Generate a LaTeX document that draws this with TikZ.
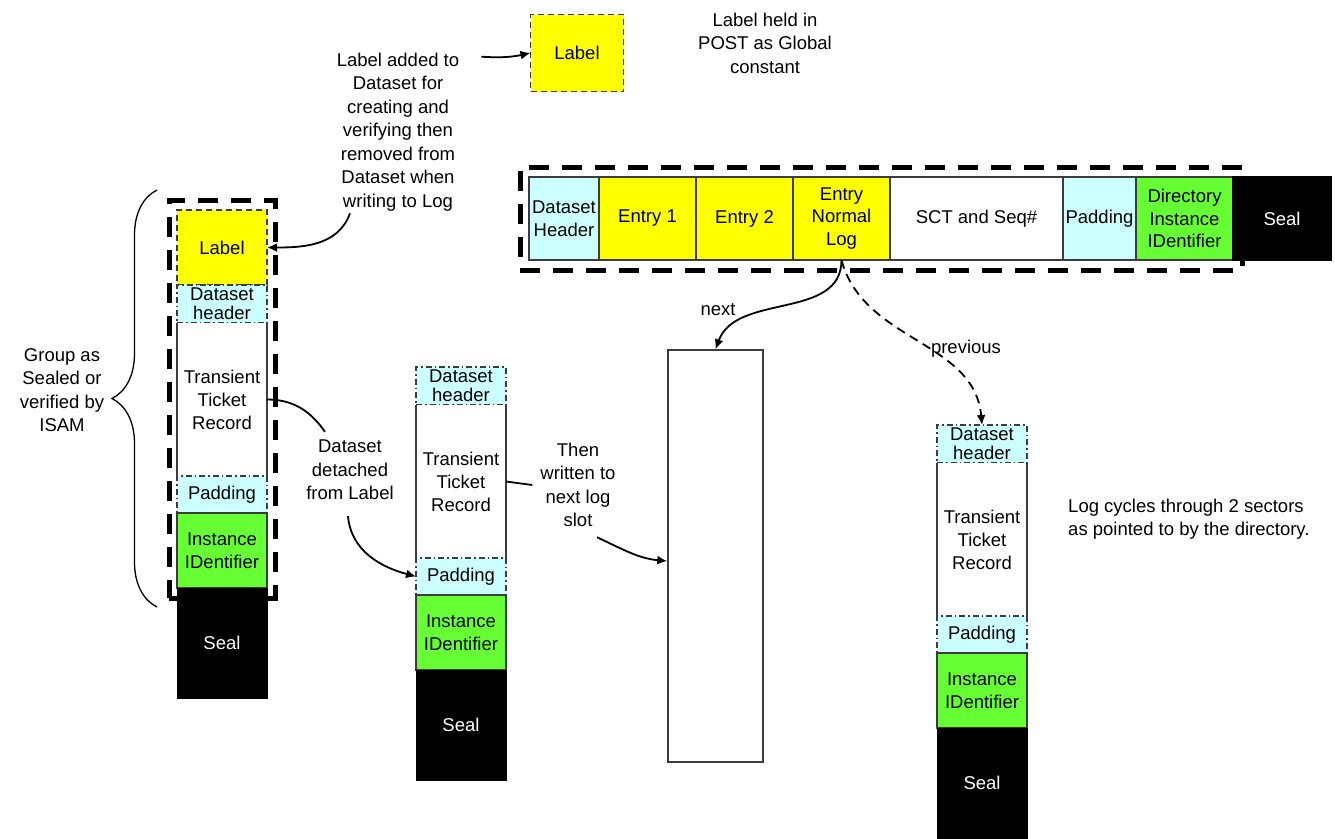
\documentclass[tikz,border=0pt]{standalone}
\usepackage{fontspec}
\setmainfont{Liberation Sans}
\usetikzlibrary{
  arrows.meta,
  positioning,
  fit,
  decorations.pathreplacing
}
\definecolor{LabelYellow}{RGB}{255,255,0}
\definecolor{PadCyan}{RGB}{204,255,255}
\definecolor{IdGreen}{RGB}{102,255,51}
\definecolor{EdgeGray}{RGB}{60,60,60}
\tikzset{
  cell/.style={outer sep=0pt,inner sep=0pt,align=center,minimum width=90pt,font=\fontsize{18.5}{20}\selectfont},
  labelcell/.style={cell,fill=LabelYellow,draw=EdgeGray,line width=1.8pt,dash pattern=on 6pt off 4pt,minimum height=75pt},
  hdrcell/.style={cell,fill=PadCyan,draw=EdgeGray,line width=1.4pt,dash pattern=on 6pt off 3pt on 1.5pt off 3pt,minimum height=38pt,font=\fontsize{18.5}{19}\selectfont},
  reccell/.style={cell,fill=white,minimum height=153pt,font=\fontsize{18.5}{23}\selectfont},
  padcell/.style={hdrcell,minimum height=37pt},
  idcell/.style={cell,fill=IdGreen,draw=EdgeGray,line width=1.2pt,minimum height=75pt,font=\fontsize{18.5}{23}\selectfont},
  sealcell/.style={cell,fill=black,draw=black,text=white,minimum height=110pt},
  rowcell/.style={outer sep=0pt,inner sep=0pt,align=center,draw=EdgeGray,line width=1.2pt,minimum height=83pt,font=\fontsize{18.5}{22.5}\selectfont},
  slotbox/.style={draw=EdgeGray,line width=1.4pt,fill=white,minimum width=95pt,minimum height=412pt},
  groupframe/.style={draw=black,line width=5pt,dash pattern=on 20pt off 13pt},
  side/.style={draw=EdgeGray,line width=1.2pt},
  txt/.style={font=\fontsize{18.5}{23.5}\selectfont,align=center,inner sep=2pt},
  wire/.style={line width=1.8pt},
  arr/.style={wire,-{Latex[length=10pt,width=9pt]}},
  darr/.style={arr,dash pattern=on 9pt off 6pt},
  bracemark/.style={line width=1.3pt,decorate,decoration={brace,amplitude=45pt}}
}
\begin{document}
\begin{tikzpicture}[x=1pt,y=1pt]
\path[use as bounding box,fill=white] (0,0) rectangle (1335,-838);

\node[labelcell,minimum width=93pt,minimum height=77pt] (toplbl) at (577,-53) {Label};
\node[txt] (held) at (765,-43) {Label held in\\POST as Global\\constant};

% sealed group
\node[labelcell,anchor=north] (lbl1) at (222,-210) {Label};
\node[hdrcell,below=0pt of lbl1] (hdr1) {Dataset\\header};
\node[reccell,below=0pt of hdr1] (rec1) {Transient\\Ticket\\Record};
\node[padcell,below=0pt of rec1] (pad1) {Padding};
\node[idcell,below=0pt of pad1] (id1) {Instance\\IDentifier};
\node[sealcell,below=0pt of id1] (seal1) {Seal};
\draw[side] (rec1.north west) -- (rec1.south west) (rec1.north east) -- (rec1.south east);
\node[groupframe,fit=(lbl1)(id1),inner xsep=8pt,inner ysep=10pt] (frame1) {};

% detached dataset
\node[hdrcell,anchor=north] (hdr2) at (461,-367) {Dataset\\header};
\node[reccell,below=0pt of hdr2] (rec2) {Transient\\Ticket\\Record};
\node[padcell,below=0pt of rec2] (pad2) {Padding};
\node[idcell,below=0pt of pad2] (id2) {Instance\\IDentifier};
\node[sealcell,below=0pt of id2] (seal2) {Seal};
\draw[side] (rec2.north west) -- (rec2.south west) (rec2.north east) -- (rec2.south east);

% previous log slot
\node[hdrcell,anchor=north] (hdr3) at (982,-425) {Dataset\\header};
\node[reccell,below=0pt of hdr3] (rec3) {Transient\\Ticket\\Record};
\node[padcell,below=0pt of rec3] (pad3) {Padding};
\node[idcell,below=0pt of pad3] (id3) {Instance\\IDentifier};
\node[sealcell,below=0pt of id3] (seal3) {Seal};
\draw[side] (rec3.north west) -- (rec3.south west) (rec3.north east) -- (rec3.south east);

\node[slotbox] (slot) at (715.5,-556) {};

% directory record
\node[rowcell,fill=PadCyan,minimum width=70pt,anchor=north west] (dh) at (529,-177) {Dataset\\Header};
\node[rowcell,fill=LabelYellow,minimum width=97pt,right=0pt of dh] (e1) {Entry 1};
\node[rowcell,fill=LabelYellow,minimum width=97pt,right=0pt of e1] (e2) {Entry 2};
\node[rowcell,fill=LabelYellow,minimum width=97pt,right=0pt of e2] (enl) {Entry\\Normal\\Log};
\node[rowcell,fill=white,minimum width=173pt,right=0pt of enl] (sct) {SCT and Seq\#};
\node[rowcell,fill=PadCyan,minimum width=73pt,right=0pt of sct] (rpad) {Padding};
\node[rowcell,fill=IdGreen,minimum width=97pt,right=0pt of rpad] (dir) {Directory\\Instance\\IDentifier};
\node[rowcell,fill=black,draw=black,text=white,minimum width=98pt,right=0pt of dir] (rseal) {Seal};
\node[groupframe,fit=(dh)(dir),inner xsep=9pt,inner ysep=10pt] (frame2) {};

\node[txt] (added) at (398,-132) {Label added to\\Dataset for\\creating and\\verifying then\\removed from\\Dataset when\\writing to Log};
\node[txt] (grp) at (62,-390) {Group as\\Sealed or\\verified by\\ISAM};
\node[txt,fill=white] (det) at (350,-470) {Dataset\\detached\\from Label};
\node[txt,fill=white,inner xsep=8pt] (then) at (578,-485) {Then\\written to\\next log\\slot};
\node[txt] (nexttxt) at (718,-310) {next};
\node[txt] (prevtxt) at (966,-349) {previous};
\node[txt,align=left,anchor=west] (cycle) at (1066,-519) {Log cycles through 2 sectors\\as pointed to by the directory.};

\coordinate (bracelo) at (157,-607);
\coordinate (bracehi) at (157,-190);
\draw[bracemark] (bracelo) -- (bracehi);

\draw[arr] ([xshift=20pt,yshift=-6pt]added.north east) to[bend right=8] (toplbl.west);
\draw[arr] ([xshift=-48pt]added.south) to[out=-110,in=0] (lbl1.east);
\draw[wire] (rec1.east) to[out=0,in=125] ([xshift=-25pt,yshift=6pt]det.north);
\draw[arr] ([xshift=-2pt,yshift=-14pt]det.south) to[out=-85,in=165] (pad2.west);
\draw[wire] (rec2.east) -- (then.west);
\draw[arr] ([xshift=19pt,yshift=-8pt]then.south) to[out=-25,in=175] ([yshift=-5pt]slot.west);
\draw[arr] (enl.south) to[out=-90,in=70] (slot.north);
\draw[darr] (enl.south) to[out=-75,in=95] (hdr3.north);
\end{tikzpicture}
\end{document}
